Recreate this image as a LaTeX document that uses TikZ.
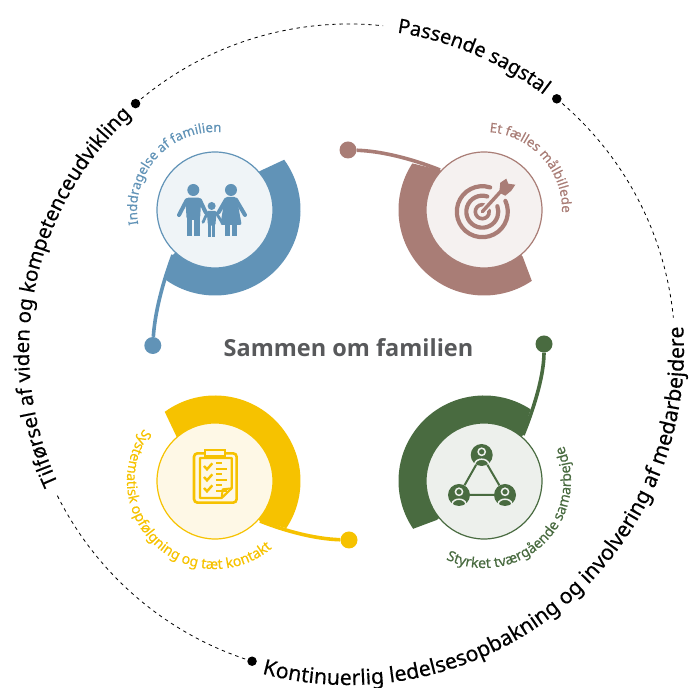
\documentclass[tikz,border=0pt]{standalone}
\usepackage{fontspec}
\setmainfont{Noto Sans}
\newfontfamily\fmed[RawFeature={embolden=0.35}]{Noto Sans}
\newfontfamily\ftitle{Open Sans}
\usetikzlibrary{decorations.text,calc}
\definecolor{cblue}{HTML}{6193B7}\definecolor{lblue}{HTML}{EFF4F7}
\definecolor{crose}{HTML}{A97D76}\definecolor{lrose}{HTML}{F5F1F0}
\definecolor{cyel}{HTML}{F6C200}\definecolor{lyel}{HTML}{FEF8E6}
\definecolor{cgrn}{HTML}{496B40}\definecolor{lgrn}{HTML}{EDF0EC}
\definecolor{ctitle}{HTML}{58595B}
\newcommand{\fo}{\fmed\fontsize{20}{22}\selectfont}
\newcommand{\fl}{\fmed\fontsize{20.5}{22}\selectfont}
\newcommand{\fk}{\fmed\fontsize{21.3}{24}\selectfont}
\newcommand{\fa}{\fmed\fontsize{13.2}{15}\selectfont}
\newcommand{\fb}{\fmed\fontsize{14.1}{16}\selectfont}
\tikzset{
  x=1pt,y=1pt,
  hub/.style={circle,draw=#1,line width=1.2pt,minimum size=116pt,inner sep=0pt},
  knob/.style={circle,fill=#1,minimum size=17pt,inner sep=0pt},
  tail/.style={draw=#1,line width=3.6pt},
  bead/.style={circle,fill=black,minimum size=9.5pt,inner sep=0pt},
  ringline/.style={draw=black,line width=0.8pt,dash pattern=on 3.4pt off 3.8pt},
  arctext/.style={decorate,decoration={text along path,text align=center,text={#1}}},
  persondot/.style={circle,fill=cgrn,minimum size=22pt,inner sep=0pt},
}
\newcommand{\personglyph}[1]{%
  \draw[lgrn,line width=1.5pt] ($(#1)+(0,3.2)$) circle[radius=3.6pt];
  \draw[lgrn,line width=1.5pt] ($(#1)+(-7,-9)$) .. controls ($(#1)+(-6,-2.6)$) and ($(#1)+(6,-2.6)$) .. ($(#1)+(7,-9)$);
}
\begin{document}
\begin{tikzpicture}
\useasboundingbox (0,0) rectangle (689,688);
\coordinate (O) at (349,338);
\coordinate (CB) at (215,478);
\coordinate (CR) at (484,478);
\coordinate (CY) at (215,207);
\coordinate (CG) at (484,207);
% outer ring
\node[bead] (beadA) at ($(O)+(130.9:326)$) {};
\node[bead] (beadB) at ($(O)+(50.4:326)$) {};
\node[bead] (beadC) at ($(O)+(252.7:326)$) {};
\draw[ringline] (beadA) ++(0,0) arc[start angle=130.9,end angle=84,radius=326pt];
\draw[ringline] (beadB) ++(0,0) arc[start angle=50.4,end angle=5.7,radius=326pt];
\draw[ringline] (beadC) ++(0,0) arc[start angle=252.7,end angle=206.4,radius=326pt];
\path[arctext={|\fo|Passende sagstal}] ($(O)+(102:321)$) arc[start angle=102,end angle=32,radius=321pt];
\path[arctext={|\fl|Tilførsel af viden og kompetenceudvikling}] ($(O)+(218.7:320)$) arc[start angle=218.7,end angle=118.7,radius=320pt];
\path[arctext={|\fk|Kontinuerlig ledelsesopbakning og involvering af medarbejdere}] ($(O)+(239.5:335)$) arc[start angle=239.5,end angle=379.5,radius=335pt];
% wedges
\fill[cblue] ($(CB)+(36:85.5)$) arc[start angle=36,end angle=-125,radius=85.5pt] -- (173,433) -- (CB) -- (260,517) -- cycle;
\fill[crose] ($(CR)+(147:85.5)$) arc[start angle=147,end angle=304,radius=85.5pt] -- (522.7,431.3) -- (CR) -- (440,518) -- cycle;
\fill[cyel] ($(CY)+(126:85.5)$) arc[start angle=126,end angle=-33.5,radius=85.5pt] -- (260,167) -- (CY) -- (176.7,251) -- cycle;
\fill[cgrn] ($(CG)+(57:85.5)$) arc[start angle=57,end angle=214,radius=85.5pt] -- (436.7,168) -- (CG) -- (523,253) -- cycle;
% knobs and tails
\node[knob=cblue] (kB) at (152.8,342.5) {};
\node[knob=crose] (kR) at (348,538) {};
\node[knob=cyel] (kY) at (349,148) {};
\node[knob=cgrn] (kG) at (544,344) {};
\coordinate (tB) at (173,433);
\coordinate (tR) at (440,518);
\coordinate (tY) at (260,167);
\coordinate (tG) at (523,253);
\draw[tail=cblue] (tB) .. controls (160,398) and (154.5,370) .. (kB);
\draw[tail=crose] (tR) .. controls (410,530) and (380,537) .. (kR);
\draw[tail=cyel] (tY) .. controls (285,157) and (315,149) .. (kY);
\draw[tail=cgrn] (tG) .. controls (536,285) and (544,315) .. (kG);
% hubs
\node[hub=cblue,fill=lblue] (hB) at (CB) {};
\node[hub=crose,fill=lrose] (hR) at (CR) {};
\node[hub=cyel,fill=lyel] (hY) at (CY) {};
\node[hub=cgrn,fill=lgrn] (hG) at (CG) {};
% inner labels
\path[arctext={|\fa\color{cblue}|Inddragelse af familien}] ($(CB)+(208:78)$) arc[start angle=208,end angle=68,radius=78pt];
\path[arctext={|\fa\color{crose}|Et fælles målbillede}] ($(CR)+(112:78)$) arc[start angle=112,end angle=-28,radius=78pt];
\path[arctext={|\fb\color{cyel}|Systematisk opfølgning og tæt kontakt}] ($(CY)+(127:88)$) arc[start angle=127,end angle=327,radius=88pt];
\path[arctext={|\fb\color{cgrn}|Styrket tværgående samarbejde}] ($(CG)+(224:87)$) arc[start angle=224,end angle=404,radius=87pt];
% title
\node[font=\ftitle\bfseries\fontsize{23.5}{28}\selectfont,text=ctitle,inner sep=0pt] (title) at (348.5,340) {Sammen om familien};
% family icon
\begin{scope}[shift={(170,513)},x=.3333pt,y=-.3333pt]
\fill[cblue] (70,45) circle[radius=6pt] (183,45) circle[radius=6pt] (125,93) circle[radius=4pt];
\fill[cblue,rounded corners=3pt] (46,68) -- (94,68) -- (90,135) -- (50,135) -- cycle;
\draw[cblue,line width=5.2pt] (59,125) -- (59,183) (81,125) -- (81,183);
\draw[cblue,line width=4pt,line cap=round] (50,76) -- (27,120) (90,76) -- (107,112);
\fill[cblue,rounded corners=2pt] (165,66) -- (200,66) -- (215,150) -- (151,150) -- cycle;
\draw[cblue,line width=5pt] (172,145) -- (172,183) (193,145) -- (193,183);
\draw[cblue,line width=4pt,line cap=round] (168,74) -- (146,112) (198,74) -- (225,120);
\fill[cblue,rounded corners=1.5pt] (110,108) -- (140,108) -- (136,152) -- (114,152) -- cycle;
\draw[cblue,line width=3.6pt] (119,148) -- (119,186) (131,148) -- (131,186);
\draw[cblue,line width=2.8pt,line cap=round] (112,113) -- (99,142) (138,113) -- (156,142);
\end{scope}
% target icon
\begin{scope}[shift={(482.3,476.3)}]
\draw[crose,line width=4.2pt,line cap=round] (72:25.5) arc[start angle=72,end angle=385,radius=25.5pt];
\draw[crose,line width=4.2pt,line cap=round] (72:16) arc[start angle=72,end angle=380,radius=16pt];
\draw[crose,line width=3.6pt,line cap=round] (70:7) arc[start angle=70,end angle=375,radius=7pt];
\draw[lrose,line width=6.5pt] (0,0) -- (18,20);
\draw[crose,line width=3.4pt,line cap=round] (0,0) -- (20,22);
\fill[crose] (17,19) -- (18,29) -- (24,33) -- (26,28) -- (33,27) -- (29,21) -- (23,16) -- cycle;
\end{scope}
% clipboard icon
\begin{scope}[shift={(180,248)},x=.3333pt,y=-.3333pt]
\draw[cyel,line width=2.6pt,rounded corners=3.5pt] (42,40) rectangle (170,188);
\draw[cyel,line width=2.4pt,fill=lyel] (75,30) rectangle (135,50);
\draw[cyel,line width=2.2pt,line join=round] (60,54) -- (155,54) -- (155,145) -- (125,174) -- (60,174) -- cycle;
\draw[cyel,line width=2pt,line join=round] (155,145) -- (128,148) -- (125,174);
\foreach \d in {0,33,66} {
  \draw[cyel,line width=2.4pt] (72,{78+\d}) -- (81,{88+\d}) -- (97,{70+\d});
  \draw[cyel,line width=2.1pt] (108,{70+\d}) -- (125,{70+\d}) (108,{87+\d}) -- (142,{87+\d});
}
\end{scope}
% network icon
\node[persondot] (pT) at (481.7,233) {};
\node[persondot] (pL) at (459,193) {};
\node[persondot] (pR) at (505,193) {};
\draw[cgrn,line width=2pt] (pT) -- (pL) (pL) -- (pR) (pR) -- (pT);
\personglyph{pT}\personglyph{pL}\personglyph{pR}
\end{tikzpicture}
\end{document}
